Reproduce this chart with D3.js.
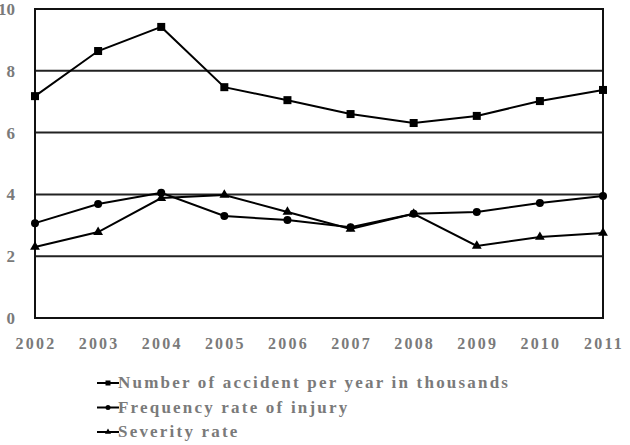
<!DOCTYPE html>
<html>
<head>
<meta charset="utf-8">
<script src="https://cdn.jsdelivr.net/npm/d3@7"></script>
<style>
  body { margin: 0; background: #fff; }
  text { font-family: "Liberation Serif", "DejaVu Serif", serif; font-weight: bold; fill: #7a7a7a; }
</style>
</head>
<body>
<svg id="chart" width="630" height="445"></svg>
<script>
const years = [2002, 2003, 2004, 2005, 2006, 2007, 2008, 2009, 2010, 2011];
const accidents = [7.18, 8.64, 9.42, 7.47, 7.05, 6.6, 6.31, 6.54, 7.02, 7.38];
const frequency = [3.07, 3.69, 4.05, 3.3, 3.17, 2.94, 3.37, 3.43, 3.72, 3.95];
const severity = [2.3, 2.78, 3.88, 3.98, 3.43, 2.88, 3.37, 2.33, 2.62, 2.75];
const yTicks = [0, 2, 4, 6, 8, 10];
const seriesNames = [
    'Number of accident per year in thousands',
    'Frequency rate of injury',
    'Severity rate'
];

const svg = d3.select('#chart');
const plotLeft = 35, plotRight = 603, plotTop = 9, plotBottom = 318;

const x = d3.scalePoint().domain(years).range([plotLeft, plotRight]);
const y = d3.scaleLinear().domain([0, 10]).range([plotBottom, plotTop]);

// gridlines
svg.selectAll('line.grid')
    .data(yTicks.filter(d => d > 0 && d < 10))
    .join('line')
    .attr('class', 'grid')
    .attr('x1', plotLeft).attr('x2', plotRight)
    .attr('y1', d => y(d)).attr('y2', d => y(d))
    .attr('stroke', '#222').attr('stroke-width', 2);

// frame
svg.append('rect')
    .attr('x', plotLeft).attr('y', plotTop)
    .attr('width', plotRight - plotLeft).attr('height', plotBottom - plotTop)
    .attr('fill', 'none').attr('stroke', '#111').attr('stroke-width', 2);

// y labels
svg.selectAll('text.ylab')
    .data(yTicks)
    .join('text')
    .attr('class', 'ylab')
    .attr('x', 15)
    .attr('y', d => y(d) + 6)
    .attr('text-anchor', 'end')
    .style('font-size', '17px')
    .text(d => d);

// x labels
svg.selectAll('text.xlab')
    .data(years)
    .join('text')
    .attr('class', 'xlab')
    .attr('x', d => x(d) + 1)
    .attr('y', 349)
    .attr('text-anchor', 'middle')
    .style('font-size', '16px')
    .style('letter-spacing', '2.2px')
    .text(d => d);

const line = d3.line().x((d, i) => x(years[i])).y(d => y(d));

const series = [
    { name: seriesNames[0], values: accidents, marker: 'square' },
    { name: seriesNames[1], values: frequency, marker: 'circle' },
    { name: seriesNames[2], values: severity, marker: 'triangle' }
];

function drawMarker(g, type, size) {
    if (type === 'square') {
        g.append('rect').attr('x', -size).attr('y', -size)
            .attr('width', size * 2).attr('height', size * 2).attr('fill', '#000');
    } else if (type === 'circle') {
        g.append('circle').attr('r', size).attr('fill', '#000');
    } else {
        g.append('path')
            .attr('d', d3.symbol(d3.symbolTriangle, size * size * 2.6)())
            .attr('fill', '#000');
    }
}

series.forEach(s => {
    svg.append('path')
        .datum(s.values)
        .attr('d', line)
        .attr('fill', 'none')
        .attr('stroke', '#000')
        .attr('stroke-width', 2);

    s.values.forEach((v, i) => {
        const g = svg.append('g').attr('transform', `translate(${x(years[i])},${y(v)})`);
        drawMarker(g, s.marker, 4);
    });
});

// legend
const legend = svg.append('g').attr('transform', 'translate(97,383)');
series.forEach((s, i) => {
    const g = legend.append('g').attr('transform', `translate(0,${i * 24.5})`);
    g.append('line').attr('x1', 0).attr('x2', 22).attr('y1', 0).attr('y2', 0)
        .attr('stroke', '#000').attr('stroke-width', 2);
    const m = g.append('g').attr('transform', 'translate(11,0)');
    drawMarker(m, s.marker, 2.5);
    g.append('text')
        .attr('x', 21).attr('y', 5)
        .style('font-size', '17px')
        .style('letter-spacing', '2.2px')
        .text(s.name);
});
</script>
</body>
</html>
